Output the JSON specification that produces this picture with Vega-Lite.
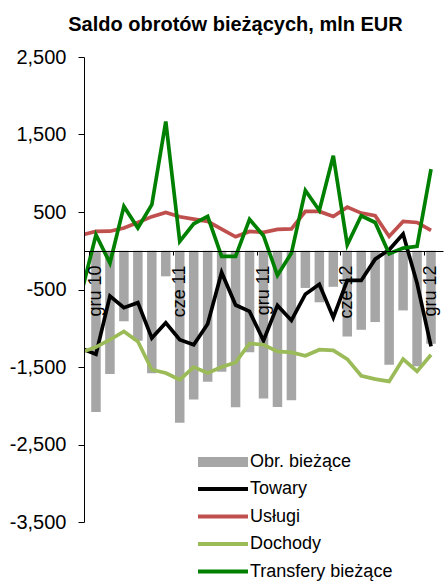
{
  "$schema": "https://vega.github.io/schema/vega-lite/v6.json",
  "width": 359,
  "height": 465,
  "autosize": {"type": "none"},
  "padding": {"left": 84, "top": 57, "right": 3, "bottom": 61},
  "background": "white",
  "title": {
    "text": "Saldo obrotów bieżących, mln EUR",
    "font": "Liberation Sans",
    "fontSize": 20,
    "fontWeight": "bold",
    "color": "black",
    "anchor": "middle",
    "dx": -28,
    "offset": 12
  },
  "config": {
    "view": {"stroke": null},
    "axis": {"labelFont": "Liberation Sans", "labelColor": "black", "domainColor": "black", "tickColor": "black", "grid": false, "title": null},
    "legend": {"labelFont": "Liberation Sans", "labelColor": "black", "labelFontSize": 18}
  },
  "datasets": {
    "bars": [
      {"i": 1, "m": "gru 10", "s": "Obr. bieżące", "v": -2080},
      {"i": 2, "m": "sty 11", "s": "Obr. bieżące", "v": -1590},
      {"i": 3, "m": "lut 11", "s": "Obr. bieżące", "v": -910},
      {"i": 4, "m": "mar 11", "s": "Obr. bieżące", "v": -1160},
      {"i": 5, "m": "kwi 11", "s": "Obr. bieżące", "v": -1580},
      {"i": 6, "m": "maj 11", "s": "Obr. bieżące", "v": -330},
      {"i": 7, "m": "cze 11", "s": "Obr. bieżące", "v": -2220},
      {"i": 8, "m": "lip 11", "s": "Obr. bieżące", "v": -1920},
      {"i": 9, "m": "sie 11", "s": "Obr. bieżące", "v": -1690},
      {"i": 10, "m": "wrz 11", "s": "Obr. bieżące", "v": -1560},
      {"i": 11, "m": "paź 11", "s": "Obr. bieżące", "v": -2020},
      {"i": 12, "m": "lis 11", "s": "Obr. bieżące", "v": -1310},
      {"i": 13, "m": "gru 11", "s": "Obr. bieżące", "v": -1905},
      {"i": 14, "m": "sty 12", "s": "Obr. bieżące", "v": -2015},
      {"i": 15, "m": "lut 12", "s": "Obr. bieżące", "v": -1930},
      {"i": 16, "m": "mar 12", "s": "Obr. bieżące", "v": -480},
      {"i": 17, "m": "kwi 12", "s": "Obr. bieżące", "v": -665},
      {"i": 18, "m": "maj 12", "s": "Obr. bieżące", "v": -465},
      {"i": 19, "m": "cze 12", "s": "Obr. bieżące", "v": -1105},
      {"i": 20, "m": "lip 12", "s": "Obr. bieżące", "v": -1020},
      {"i": 21, "m": "sie 12", "s": "Obr. bieżące", "v": -920},
      {"i": 22, "m": "wrz 12", "s": "Obr. bieżące", "v": -1470},
      {"i": 23, "m": "paź 12", "s": "Obr. bieżące", "v": -770},
      {"i": 24, "m": "lis 12", "s": "Obr. bieżące", "v": -1490},
      {"i": 25, "m": "gru 12", "s": "Obr. bieżące", "v": -1200}
    ],
    "lines": [
      {"i": 0, "s": "Towary", "v": -1265}, {"i": 1, "s": "Towary", "v": -1335}, {"i": 2, "s": "Towary", "v": -585}, {"i": 3, "s": "Towary", "v": -735}, {"i": 4, "s": "Towary", "v": -670}, {"i": 5, "s": "Towary", "v": -1127}, {"i": 6, "s": "Towary", "v": -930}, {"i": 7, "s": "Towary", "v": -1148}, {"i": 8, "s": "Towary", "v": -1213}, {"i": 9, "s": "Towary", "v": -945}, {"i": 10, "s": "Towary", "v": -280}, {"i": 11, "s": "Towary", "v": -700}, {"i": 12, "s": "Towary", "v": -783}, {"i": 13, "s": "Towary", "v": -1160}, {"i": 14, "s": "Towary", "v": -705}, {"i": 15, "s": "Towary", "v": -899}, {"i": 16, "s": "Towary", "v": -560}, {"i": 17, "s": "Towary", "v": -432}, {"i": 18, "s": "Towary", "v": -862}, {"i": 19, "s": "Towary", "v": -383}, {"i": 20, "s": "Towary", "v": -383}, {"i": 21, "s": "Towary", "v": -108}, {"i": 22, "s": "Towary", "v": 13}, {"i": 23, "s": "Towary", "v": 215}, {"i": 24, "s": "Towary", "v": -420}, {"i": 25, "s": "Towary", "v": -1235},
      {"i": 0, "s": "Usługi", "v": 206}, {"i": 1, "s": "Usługi", "v": 249}, {"i": 2, "s": "Usługi", "v": 252}, {"i": 3, "s": "Usługi", "v": 293}, {"i": 4, "s": "Usługi", "v": 365}, {"i": 5, "s": "Usługi", "v": 440}, {"i": 6, "s": "Usługi", "v": 494}, {"i": 7, "s": "Usługi", "v": 439}, {"i": 8, "s": "Usługi", "v": 409}, {"i": 9, "s": "Usługi", "v": 380}, {"i": 10, "s": "Usługi", "v": 280}, {"i": 11, "s": "Usługi", "v": 180}, {"i": 12, "s": "Usługi", "v": 249}, {"i": 13, "s": "Usługi", "v": 237}, {"i": 14, "s": "Usługi", "v": 275}, {"i": 15, "s": "Usługi", "v": 282}, {"i": 16, "s": "Usługi", "v": 507}, {"i": 17, "s": "Usługi", "v": 507}, {"i": 18, "s": "Usługi", "v": 443}, {"i": 19, "s": "Usługi", "v": 563}, {"i": 20, "s": "Usługi", "v": 486}, {"i": 21, "s": "Usługi", "v": 452}, {"i": 22, "s": "Usługi", "v": 185}, {"i": 23, "s": "Usługi", "v": 378}, {"i": 24, "s": "Usługi", "v": 365}, {"i": 25, "s": "Usługi", "v": 262},
      {"i": 0, "s": "Dochody", "v": -1307}, {"i": 1, "s": "Dochody", "v": -1243}, {"i": 2, "s": "Dochody", "v": -1148}, {"i": 3, "s": "Dochody", "v": -1041}, {"i": 4, "s": "Dochody", "v": -1170}, {"i": 5, "s": "Dochody", "v": -1535}, {"i": 6, "s": "Dochody", "v": -1578}, {"i": 7, "s": "Dochody", "v": -1665}, {"i": 8, "s": "Dochody", "v": -1501}, {"i": 9, "s": "Dochody", "v": -1578}, {"i": 10, "s": "Dochody", "v": -1501}, {"i": 11, "s": "Dochody", "v": -1441}, {"i": 12, "s": "Dochody", "v": -1195}, {"i": 13, "s": "Dochody", "v": -1213}, {"i": 14, "s": "Dochody", "v": -1299}, {"i": 15, "s": "Dochody", "v": -1312}, {"i": 16, "s": "Dochody", "v": -1355}, {"i": 17, "s": "Dochody", "v": -1277}, {"i": 18, "s": "Dochody", "v": -1286}, {"i": 19, "s": "Dochody", "v": -1398}, {"i": 20, "s": "Dochody", "v": -1613}, {"i": 21, "s": "Dochody", "v": -1656}, {"i": 22, "s": "Dochody", "v": -1686}, {"i": 23, "s": "Dochody", "v": -1398}, {"i": 24, "s": "Dochody", "v": -1557}, {"i": 25, "s": "Dochody", "v": -1342},
      {"i": 0, "s": "Transfery bieżące", "v": -512}, {"i": 1, "s": "Transfery bieżące", "v": 206}, {"i": 2, "s": "Transfery bieżące", "v": -159}, {"i": 3, "s": "Transfery bieżące", "v": 572}, {"i": 4, "s": "Transfery bieżące", "v": 293}, {"i": 5, "s": "Transfery bieżące", "v": 594}, {"i": 6, "s": "Transfery bieżące", "v": 1668}, {"i": 7, "s": "Transfery bieżące", "v": 120}, {"i": 8, "s": "Transfery bieżące", "v": 348}, {"i": 9, "s": "Transfery bieżące", "v": 443}, {"i": 10, "s": "Transfery bieżące", "v": -73}, {"i": 11, "s": "Transfery bieżące", "v": -73}, {"i": 12, "s": "Transfery bieżące", "v": 405}, {"i": 13, "s": "Transfery bieżące", "v": 194}, {"i": 14, "s": "Transfery bieżące", "v": -317}, {"i": 15, "s": "Transfery bieżące", "v": -30}, {"i": 16, "s": "Transfery bieżące", "v": 778}, {"i": 17, "s": "Transfery bieżące", "v": 520}, {"i": 18, "s": "Transfery bieżące", "v": 1226}, {"i": 19, "s": "Transfery bieżące", "v": 77}, {"i": 20, "s": "Transfery bieżące", "v": 452}, {"i": 21, "s": "Transfery bieżące", "v": 365}, {"i": 22, "s": "Transfery bieżące", "v": -39}, {"i": 23, "s": "Transfery bieżące", "v": 35}, {"i": 24, "s": "Transfery bieżące", "v": 56}, {"i": 25, "s": "Transfery bieżące", "v": 1054}
    ]
  },
  "encoding": {
    "x": {
      "field": "i",
      "type": "quantitative",
      "scale": {"domain": [0.5, 25.5], "nice": false, "zero": false},
      "axis": {
        "values": [0.5, 6.5, 12.5, 18.5, 24.5],
        "labelExpr": "['gru 10','cze 11','gru 11','cze 12','gru 12'][floor(datum.value/6)]",
        "labelAngle": 270,
        "labelAlign": "right",
        "labelBaseline": "middle",
        "labelOffset": 6.5,
        "labelPadding": 10,
        "labelFontSize": 18,
        "labelFlush": false,
        "labelOverlap": false,
        "tickSize": 4,
        "offset": -271,
        "zindex": 1
      }
    },
    "y": {
      "field": "v",
      "type": "quantitative",
      "scale": {"domain": [-3500, 2500], "nice": false, "zero": false},
      "axis": {
        "values": [-3500, -2500, -1500, -500, 500, 1500, 2500],
        "labelExpr": "(datum.value < 0 ? '-' : '') + format(abs(datum.value), ',')",
        "labelFontSize": 20,
        "labelPadding": 12,
        "tickSize": 6,
        "zindex": 1
      }
    }
  },
  "layer": [
    {
      "data": {"name": "bars"},
      "mark": {"type": "bar", "width": 9.5},
      "encoding": {
        "fill": {
          "field": "s",
          "type": "nominal",
          "scale": {"domain": ["Obr. bieżące"], "range": ["#A6A6A6"]},
          "legend": {
            "title": null,
            "orient": "none",
            "legendX": 130,
            "legendY": 396,
            "padding": 0,
            "symbolType": "M-5,-1H5V1H-5Z",
            "symbolSize": 100,
            "symbolStrokeWidth": 0,
            "symbolOpacity": 1,
            "labelOffset": 18
          }
        }
      }
    },
    {
      "data": {"name": "lines"},
      "mark": {"type": "line", "strokeWidth": 3.7, "clip": true},
      "encoding": {
        "stroke": {
          "field": "s",
          "type": "nominal",
          "scale": {"domain": ["Towary", "Usługi", "Dochody", "Transfery bieżące"], "range": ["#000000", "#C0504D", "#9BBB59", "#008000"]},
          "legend": {
            "title": null,
            "orient": "none",
            "legendX": 130,
            "legendY": 423,
            "padding": 0,
            "symbolType": "M-5,0H5",
            "symbolSize": 100,
            "symbolStrokeWidth": 4,
            "symbolOpacity": 1,
            "labelOffset": 18,
            "rowPadding": 9.5
          }
        }
      }
    }
  ]
}
